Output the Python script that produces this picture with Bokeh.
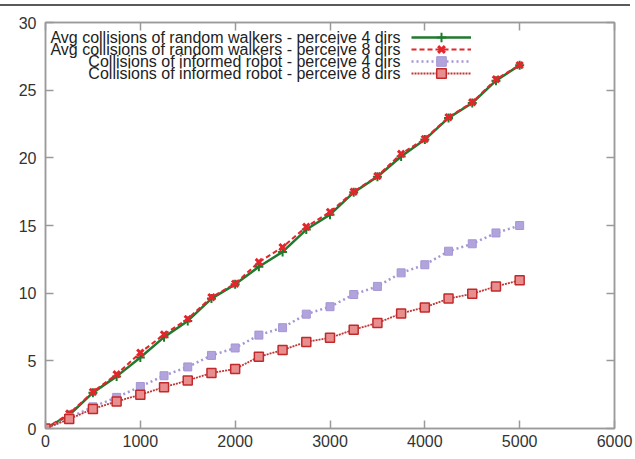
from bokeh.plotting import figure
from bokeh.models import (Range1d, LinearAxis, Legend, LegendItem, Label,
                          FixedTicker, Div)
from bokeh.layouts import column
from bokeh.embed import file_html
from bokeh.resources import INLINE

# ---- data ----
steps = [0, 250, 500, 750, 1000, 1250, 1500, 1750, 2000, 2250, 2500,
         2750, 3000, 3250, 3500, 3750, 4000, 4250, 4500, 4750, 5000]
walkers_4dirs = [0, 1.0, 2.65, 3.85, 5.25, 6.75, 7.95, 9.6, 10.65, 11.95, 13.05,
                 14.7, 15.8, 17.45, 18.6, 20.1, 21.35, 22.95, 24.05, 25.7, 26.85]
walkers_8dirs = [0, 1.1, 2.7, 4.0, 5.6, 6.95, 8.1, 9.7, 10.7, 12.3, 13.4,
                 14.9, 16.0, 17.5, 18.65, 20.3, 21.4, 23.0, 24.1, 25.8, 26.85]
informed_4dirs = [0, 0.8, 1.6, 2.3, 3.1, 3.9, 4.55, 5.4, 5.95, 6.9, 7.45,
                  8.45, 9.0, 9.9, 10.5, 11.5, 12.1, 13.1, 13.65, 14.45, 15.0]
informed_8dirs = [0, 0.7, 1.45, 2.0, 2.5, 3.05, 3.55, 4.1, 4.4, 5.3, 5.8,
                  6.4, 6.7, 7.3, 7.8, 8.5, 8.95, 9.6, 9.95, 10.5, 10.95]
labels = ["Avg collisions of random walkers - perceive 4 dirs",
          "Avg collisions of random walkers - perceive 8 dirs",
          "Collisions of informed robot - perceive 4 dirs",
          "Collisions of informed robot - perceive 8 dirs"]
x_ticks = [0, 1000, 2000, 3000, 4000, 5000, 6000]
y_ticks = [0, 5, 10, 15, 20, 25, 30]

FONT = "Liberation Sans"
AXIS_COLOR = "#9a9a9a"
TEXT_COLOR = "#333333"

p = figure(width=635, height=453, output_backend="svg", toolbar_location=None,
           x_range=Range1d(0, 6000), y_range=Range1d(0, 30),
           min_border_left=45, min_border_right=21, min_border_top=16,
           min_border_bottom=31, margin=0)
p.grid.visible = False
p.outline_line_color = AXIS_COLOR
p.outline_line_width = 1.5
p.background_fill_color = "white"
p.border_fill_color = "white"


def style_axis(ax, show_labels=True):
    ax.axis_line_color = AXIS_COLOR
    ax.axis_line_width = 1.5
    ax.major_tick_line_color = AXIS_COLOR
    ax.major_tick_line_width = 1.5
    ax.major_tick_in = 8
    ax.major_tick_out = 0
    ax.minor_tick_line_color = None
    ax.major_label_text_font = FONT
    ax.major_label_text_font_size = "16px"
    ax.major_label_text_color = TEXT_COLOR
    if not show_labels:
        ax.major_label_text_font_size = "0px"
        ax.major_label_text_alpha = 0


p.xaxis.ticker = FixedTicker(ticks=x_ticks)
p.yaxis.ticker = FixedTicker(ticks=y_ticks)
style_axis(p.xaxis[0])
style_axis(p.yaxis[0])
p.xaxis.major_label_standoff = 6
p.yaxis.major_label_standoff = 9

top_ax = LinearAxis(ticker=FixedTicker(ticks=x_ticks))
right_ax = LinearAxis(ticker=FixedTicker(ticks=y_ticks))
style_axis(top_ax, False)
style_axis(right_ax, False)
top_ax.major_label_standoff = 0
right_ax.major_label_standoff = 0
p.add_layout(top_ax, "above")
p.add_layout(right_ax, "right")

# ---- series ----
r4l = p.line(steps, walkers_4dirs, line_color="#1f7a2e", line_width=2.5)
r4m = p.scatter(steps, walkers_4dirs, marker="cross", size=9,
                line_color="#1f7a2e", line_width=2)

r8l = p.line(steps, walkers_8dirs, line_color="#e3262b", line_width=2,
             line_dash="5 3")
r8m = p.scatter(steps, walkers_8dirs, marker="x", size=9,
                line_color="#e3262b", line_width=3)

i4l = p.line(steps, informed_4dirs, line_color="#a596d4", line_width=2.5,
             line_dash="2 3")
i4m = p.scatter(steps, informed_4dirs, marker="square", size=8,
                line_color="#a596d4", fill_color="#b1a3dc")

i8l = p.line(steps, informed_8dirs, line_color="#c23535", line_width=1.8,
             line_dash="2 1")
i8m = p.scatter(steps, informed_8dirs, marker="square", size=9,
                line_color="#c02a2a", line_width=1.5, fill_color="#e98e8e")

series_renderers = [[r4l, r4m], [r8l, r8m], [i4l, i4m], [i8l, i8m]]
row_y = [391, 379, 367, 355]   # legend row centres, px above frame bottom
for txt, yy, rends in zip(labels, row_y, series_renderers):
    lg = Legend(items=[LegendItem(label=" ", renderers=rends)],
                location=(366, yy - 12), glyph_width=60, glyph_height=24,
                label_width=0, label_height=24, spacing=0, padding=0,
                margin=0, label_standoff=0, label_text_font_size="8px",
                border_line_color=None, background_fill_alpha=0)
    p.add_layout(lg)
    p.add_layout(Label(x=355, y=yy, x_units="screen", y_units="screen",
                       text=txt, text_align="right", text_baseline="middle",
                       text_font=FONT, text_font_size="16px",
                       text_color="#222222"))

rule = Div(text="", width=630, height=2, margin=(4, 5, 0, 0),
           styles={"background-color": "#5a5a5a"})

layout = column(rule, p, spacing=0)
open("out.html", "w").write(file_html(layout, INLINE))
